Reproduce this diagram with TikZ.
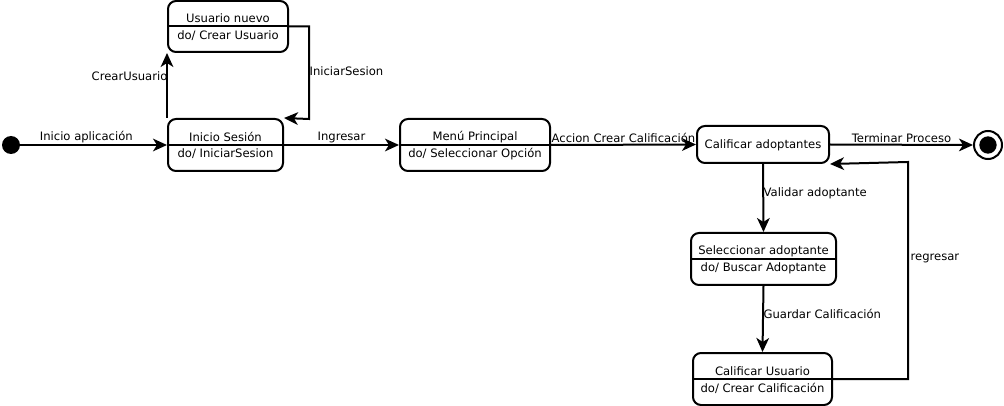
\documentclass[tikz,border=0pt]{standalone}
\usepackage{fontspec}
\setmainfont{DejaVu Sans}
\usetikzlibrary{arrows.meta}
\begin{document}
\begin{tikzpicture}[x=0.75pt,y=-0.75pt,
  state/.style={draw, line width=1.5pt, rounded corners=6pt, inner sep=0pt},
  arr/.style={line width=1.5pt, -{Stealth[length=10.5pt,width=9.5pt,inset=3pt]}},
  lbl/.style={font=\fontsize{8.7pt}{10pt}\selectfont, inner sep=1pt},
  txt/.style={font=\fontsize{8.7pt}{10pt}\selectfont, inner sep=0pt}]
\useasboundingbox (0,0) rectangle (1004,406);
% states
\node[state, minimum width=86.25pt, minimum height=39pt] (is) at (225.5,145) {};
\node[state, minimum width=90pt, minimum height=38.25pt] (un) at (228,26.5) {};
\node[state, minimum width=112.5pt, minimum height=39pt] (mp) at (475,145) {};
\node[state, minimum width=99pt, minimum height=27.75pt] (ca) at (763,144.5) {};
\node[state, minimum width=108.75pt, minimum height=39pt] (sa) at (763.5,259) {};
\node[state, minimum width=104.25pt, minimum height=39pt] (cu) at (762.5,379) {};
% dividers
\draw[line width=1.5pt] (is.west) -- (is.east);
\draw[line width=1.5pt] (un.west) -- (un.east);
\draw[line width=1.5pt] (mp.west) -- (mp.east);
\draw[line width=1.5pt] (sa.west) -- (sa.east);
\draw[line width=1.5pt] (cu.west) -- (cu.east);
% texts
\node[txt] (is1) at (225.5,137) {Inicio Sesión};
\node[txt] (is2) at (225.5,154) {do/ IniciarSesion};
\node[txt] (un1) at (228,18.5) {Usuario nuevo};
\node[txt] (un2) at (228,35.5) {do/ Crear Usuario};
\node[txt] (mp1) at (475,137) {Menú Principal};
\node[txt] (mp2) at (475,154) {do/ Seleccionar Opción};
\node[txt] (ca1) at (763,145) {Calificar adoptantes};
\node[txt] (sa1) at (763.5,251) {Seleccionar adoptante};
\node[txt] (sa2) at (763.5,268) {do/ Buscar Adoptante};
\node[txt] (cu1) at (762.5,371) {Calificar Usuario};
\node[txt] (cu2) at (762.5,388) {do/ Crear Calificación};
% initial and final
\node[circle, fill=black, minimum size=13.5pt, inner sep=0pt] (ini) at (11,145) {};
\node[circle, draw, line width=1.5pt, minimum size=21pt, inner sep=0pt] (fin) at (988,145) {};
\node[circle, fill=black, minimum size=13pt, inner sep=0pt] (fin2) at (988,145) {};
% helper coordinates
\coordinate (c1) at (309,119);
\coordinate (c2) at (908,162);
% edges
\draw[arr] (ini) -- node[lbl, above, pos=0.45] (l1) {Inicio aplicación} (is.west);
\draw[arr] (is.north west) -- (un.south west);
\node[lbl, anchor=east] (l2) at (169,76) {CrearUsuario};
\draw[arr] (un.east) -| (c1) -- (is.north east);
\node[lbl, anchor=west] (l3) at (308,71) {IniciarSesion};
\draw[arr] (is.east) -- node[lbl, above] (l4) {Ingresar} (mp.west);
\draw[arr] (mp.east) -- node[lbl, above] (l5) {Accion Crear Calificación} (ca.west);
\draw[arr] (ca.east) -- node[lbl, above] (l6) {Terminar Proceso} (fin.west);
\draw[arr] (ca.south) -- (sa.north);
\node[lbl, anchor=west] (l7) at (762,193) {Validar adoptante};
\draw[arr] (sa.south) -- (cu.north);
\node[lbl, anchor=west] (l8) at (762,314) {Guardar Calificación};
\draw[arr] (cu.east) -| (c2) -- (ca.south east);
\node[lbl, anchor=west] (l9) at (909,258) {regresar};
\end{tikzpicture}
\end{document}
